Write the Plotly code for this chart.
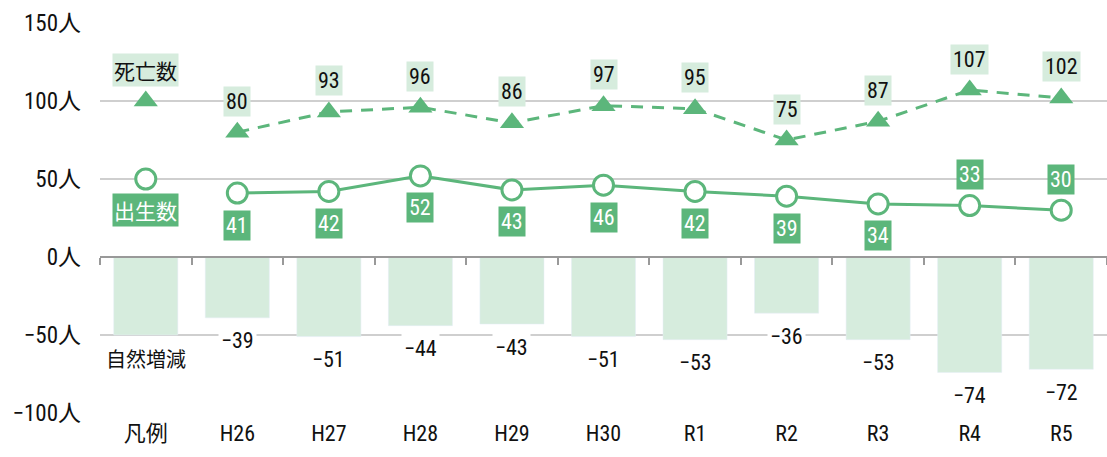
import plotly.graph_objects as go

categories = ["凡例", "H26", "H27", "H28", "H29", "H30", "R1", "R2", "R3", "R4", "R5"]
years = categories[1:]
births = [41, 42, 52, 43, 46, 42, 39, 34, 33, 30]
deaths = [80, 93, 96, 86, 97, 95, 75, 87, 107, 102]
natural = [-39, -51, -44, -43, -51, -53, -36, -53, -74, -72]
legend_bar = -50
legend_death = 100
legend_birth = 50
birth_label_above = [False, False, False, False, False, False, False, False, True, True]
ytick_vals = [150, 100, 50, 0, -50, -100]
ytick_text = ["150人", "100人", "50人", "0人", "−50人", "−100人"]

GREEN = "#5cb67b"
LIGHT = "#d6ecdd"
FONT = "Liberation Sans Narrow, Roboto Condensed, Noto Sans CJK JP, sans-serif"
JP = "Noto Sans CJK JP, sans-serif"

fig = go.Figure()
fig.add_trace(go.Bar(x=categories, y=[legend_bar] + natural, marker_color=LIGHT,
                     width=0.7, hoverinfo="skip", showlegend=False))
fig.add_trace(go.Scatter(x=years, y=deaths, mode="lines+markers",
                         line=dict(color=GREEN, width=3, dash="12px,9px"),
                         marker=dict(symbol="triangle-up", size=21, color=GREEN),
                         showlegend=False))
fig.add_trace(go.Scatter(x=years, y=births, mode="lines+markers",
                         line=dict(color=GREEN, width=3),
                         marker=dict(symbol="circle", size=20, color="white",
                                     line=dict(color=GREEN, width=3)),
                         showlegend=False))
fig.add_trace(go.Scatter(x=[categories[0]], y=[legend_death], mode="markers",
                         marker=dict(symbol="triangle-up", size=21, color=GREEN),
                         showlegend=False))
fig.add_trace(go.Scatter(x=[categories[0]], y=[legend_birth], mode="markers",
                         marker=dict(symbol="circle", size=20, color="white",
                                     line=dict(color=GREEN, width=3)),
                         showlegend=False))
# axis line at zero with boundary ticks
fig.add_trace(go.Scatter(x=categories, y=[None] * len(categories), xaxis="x2",
                         mode="markers", showlegend=False, hoverinfo="skip"))

ann = []
for c, v in zip(years, deaths):
    ann.append(dict(x=c, y=v, text=str(v), yshift=31, showarrow=False,
                    bgcolor=LIGHT, borderpad=2, font=dict(size=22, color="#111", family=FONT)))
for c, v, up in zip(years, births, birth_label_above):
    ann.append(dict(x=c, y=v, text=str(v), yshift=31 if up else -32, showarrow=False,
                    bgcolor=GREEN, borderpad=2, font=dict(size=22, color="white", family=FONT)))
for c, v in zip(years, natural):
    ann.append(dict(x=c, y=v, text="−" + str(abs(v)), yshift=-23, showarrow=False,
                    bgcolor="white", borderpad=2, font=dict(size=22, color="#111", family=FONT)))
ann.append(dict(x=categories[0], y=legend_death, text="死亡数", yshift=31, showarrow=False,
                bgcolor=LIGHT, borderpad=1, font=dict(size=21, color="#111", family=JP)))
ann.append(dict(x=categories[0], y=legend_birth, text="出生数", yshift=-31, showarrow=False,
                bgcolor=GREEN, borderpad=1, font=dict(size=21, color="white", family=JP)))
ann.append(dict(x=categories[0], y=legend_bar, text="自然増減", yshift=-23, showarrow=False,
                bgcolor="white", borderpad=0, font=dict(size=20, color="#111", family=JP)))

fig.update_layout(
    width=1107, height=457,
    margin=dict(l=100, r=0, t=23, b=44),
    plot_bgcolor="white", paper_bgcolor="white",
    bargap=0.3,
    annotations=ann,
    xaxis=dict(type="category", categoryorder="array", categoryarray=categories,
               range=[-0.5, 10.5], showgrid=False, zeroline=False, ticks="",
               tickfont=dict(size=22, color="#111", family=FONT), ticklabelstandoff=5),
    xaxis2=dict(type="category", categoryorder="array", categoryarray=categories,
                overlaying="x", anchor="free", position=0.4, side="bottom",
                range=[-0.5, 10.5], tickson="boundaries", ticks="outside", ticklen=7,
                tickcolor="#999", tickwidth=1.5, showline=True, linecolor="#999", linewidth=1.5,
                showticklabels=False, showgrid=False, zeroline=False),
    yaxis=dict(range=[-100, 150], tickvals=ytick_vals, ticktext=ytick_text,
               showgrid=True, gridcolor="#cfcfcf", gridwidth=1.5, zeroline=False,
               tickfont=dict(size=23, color="#111", family=FONT), ticklabelstandoff=18),
)
fig.write_html("out.html", config={"displayModeBar": False},
               post_script="document.body.style.margin='0';")
